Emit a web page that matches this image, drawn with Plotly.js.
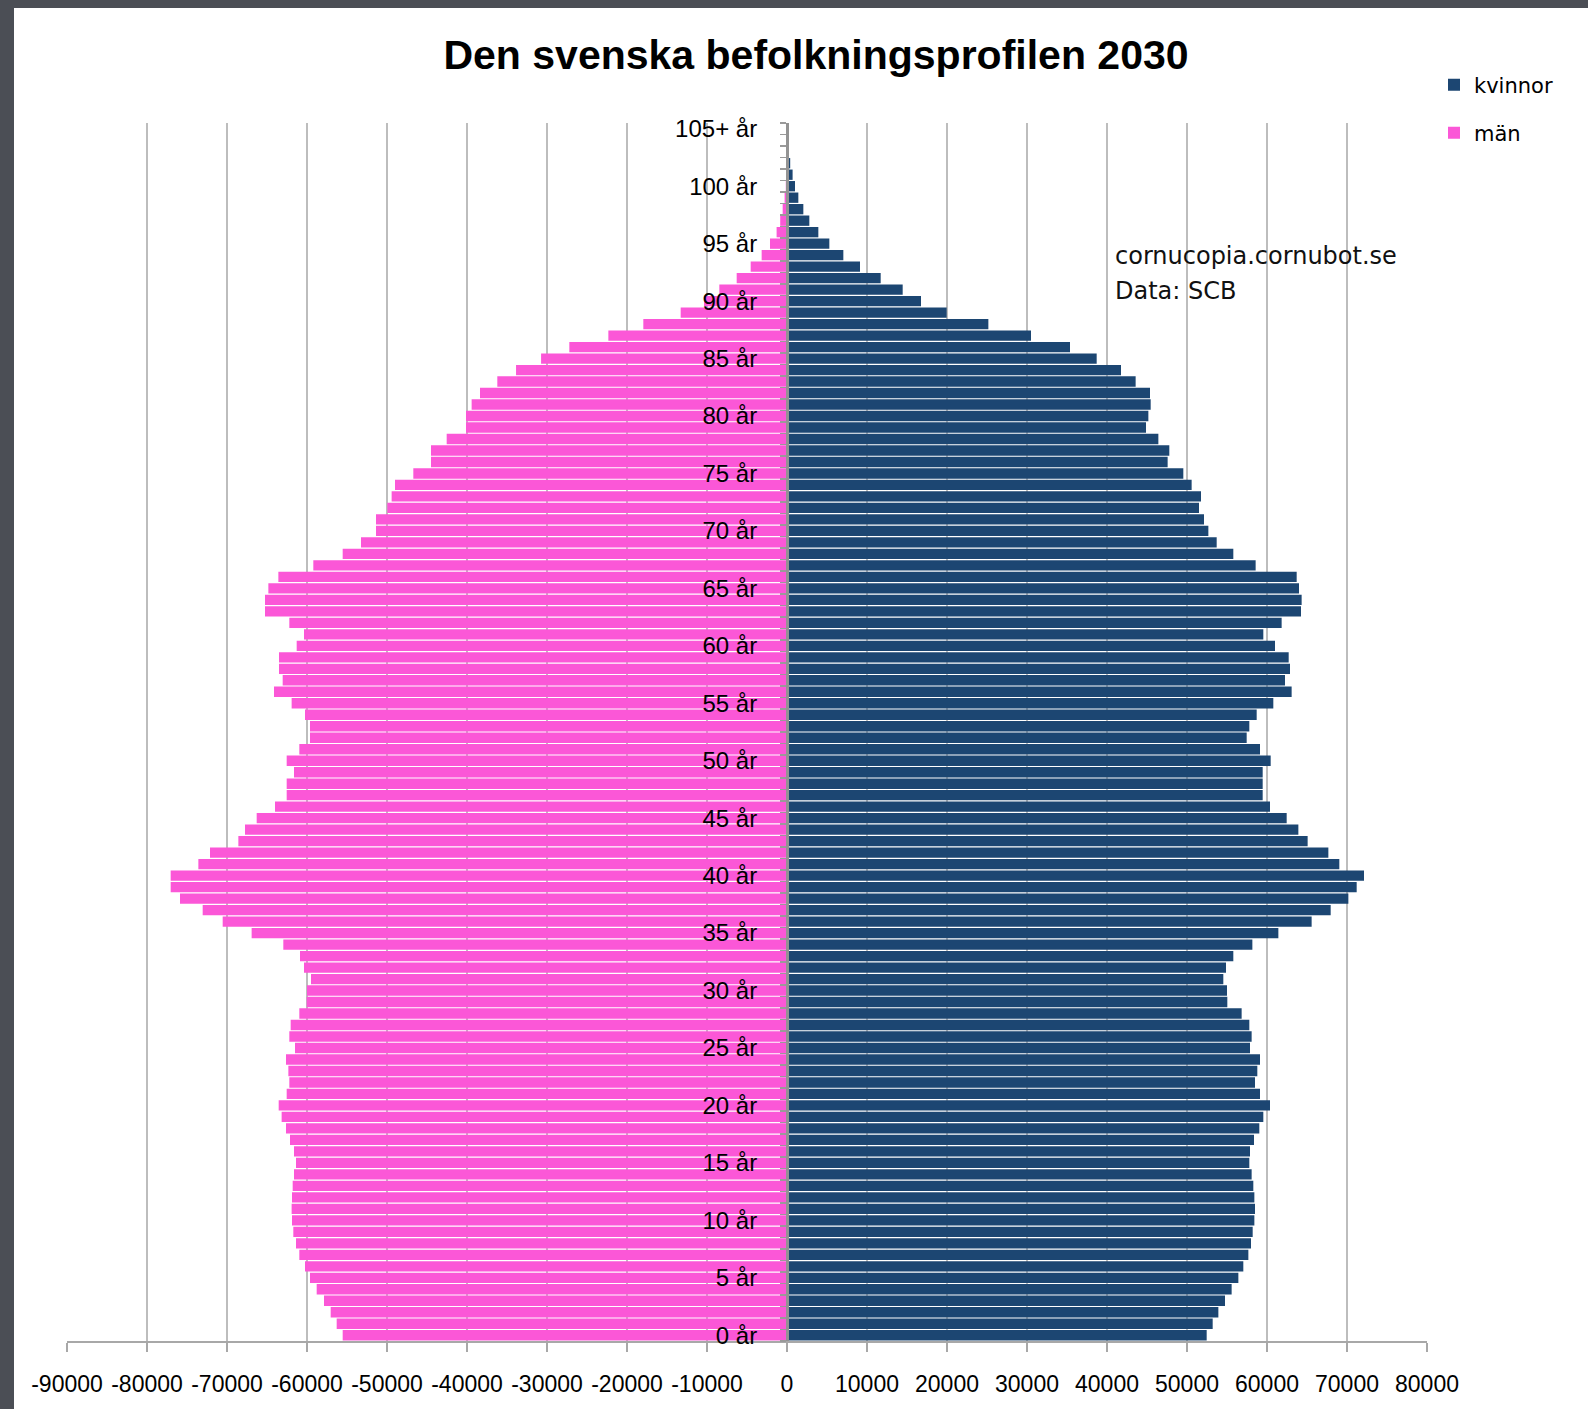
<!DOCTYPE html>
<html><head><meta charset="utf-8">
<script src="https://cdn.plot.ly/plotly-3.0.1.min.js"></script>
<style>
html,body{margin:0;padding:0;background:#4b4e55;width:1588px;height:1409px;overflow:hidden}
#chart{position:absolute;left:14px;top:8px;width:1574px;height:1401px;background:#fff}
</style></head><body><div id="chart"></div>
<script>
// age classes 0..105 (105 = 105+)
const ages = Array.from({length: 106}, (_, i) => i);
const tickAges = [0,5,10,15,20,25,30,35,40,45,50,55,60,65,70,75,80,85,90,95,100,105];
const tickLabels = ['0 år','5 år','10 år','15 år','20 år','25 år','30 år','35 år','40 år','45 år','50 år','55 år','60 år','65 år','70 år','75 år','80 år','85 år','90 år','95 år','100 år','105+ år'];

// män (drawn to the left, negative values as on the axis), ages 0..105
const man = [
 -55540,-56290,-57040,-57875,-58790,-59625,-60250,-60960,-61375,-61710,
 -61875,-61920,-61875,-61790,-61625,-61375,-61625,-62125,-62625,-63170,
 -63540,-62540,-62210,-62330,-62625,-61500,-62210,-62040,-60960,-60040,
 -60000,-59500,-60375,-60875,-62960,-66920,-70540,-73040,-75875,-77040,
 -77040,-73580,-72125,-68580,-67750,-66290,-64000,-62540,-62540,-61625,
 -62540,-60960,-59625,-59625,-60250,-61920,-64125,-63040,-63500,-63500,
 -61290,-60375,-62210,-65250,-65250,-64830,-63580,-59210,-55540,-53250,
 -51375,-51375,-49960,-49420,-49000,-46710,-44500,-44500,-42540,-40125,
 -40125,-39420,-38375,-36210,-33870,-30740,-27210,-22330,-17960,-13290,
 -10375,-8460,-6290,-4540,-3170,-2125,-1300,-850,-540,-300,
 -150,-80,-40,-20,-10,-10
];

// kvinnor (drawn to the right), ages 0..105
const kvinnor = [
 52460,53210,53920,54750,55580,56420,57040,57670,58000,58210,
 58420,58500,58420,58290,58080,57790,57875,58375,59040,59540,
 60375,59125,58500,58790,59125,57875,58080,57790,56830,55040,
 55000,54540,54875,55790,58170,61420,65580,67960,70170,71210,
 72125,69040,67670,65080,63920,62460,60375,59460,59460,59460,
 60460,59125,57460,57790,58710,60790,63080,62250,62875,62710,
 61000,59540,61830,64250,64330,64000,63710,58580,55790,53710,
 52670,52125,51500,51750,50580,49540,47580,47790,46420,44875,
 45170,45460,45375,43580,41750,38710,35375,30500,25170,19960,
 16750,14460,11710,9125,7042,5292,3917,2792,2042,1417,
 1000,700,400,250,150,150
];

const xTicks = [-90000,-80000,-70000,-60000,-50000,-40000,-30000,-20000,-10000,0,10000,20000,30000,40000,50000,60000,70000,80000];
const xTickLabels = ['-90000','-80000','-70000','-60000','-50000','-40000','-30000','-20000','-10000','0','10000','20000','30000','40000','50000','60000','70000','80000'];

const SANS = '"Liberation Sans", Arial, sans-serif';
const LUCIDA = '"DejaVu Sans", sans-serif';

const traces = [
  {type:'bar', orientation:'h', name:'kvinnor', y: ages, x: kvinnor,
   marker:{color:'#1c4672'}, legend:'legend', hoverinfo:'x+y'},
  {type:'bar', orientation:'h', name:'män', y: ages, x: man,
   marker:{color:'#fb57d7'}, legend:'legend2', hoverinfo:'x+y'}
];

const W = 1574, H = 1401;
const mL = 53, mR = 161, mT = 115, mB = 68;
const pw = W - mL - mR, ph = H - mT - mB;
const px = v => (v - mL) / pw;
const py = v => 1 - (v - mT) / ph;

const layout = {
  width: W, height: H,
  margin: {l: mL, r: mR, t: mT, b: mB, pad: 0},
  paper_bgcolor: '#ffffff', plot_bgcolor: '#ffffff',
  barmode: 'overlay', bargap: 0.1,
  showlegend: true,
  title: {text: 'Den svenska befolkningsprofilen 2030', x: 802 / W, xanchor: 'center',
          y: 1 - 47 / H, yanchor: 'middle',
          font: {family: SANS, size: 41, color: '#000', weight: 700}},
  xaxis: {range: [-90000, 80000], tickvals: xTicks, ticktext: xTickLabels, tickangle: 0,
          showgrid: true, gridcolor: '#bdbdbd', gridwidth: 2, zeroline: false,
          showline: true, linecolor: '#a8a8a8', linewidth: 2,
          ticks: 'outside', ticklen: 9, tickwidth: 2, tickcolor: '#a8a8a8',
          tickfont: {family: SANS, size: 23, color: '#000'}, ticklabelstandoff: 12,
          fixedrange: true},
  yaxis: {range: [-0.5, 105.5], tickvals: tickAges, ticktext: tickLabels,
          ticks: '', showgrid: false, zeroline: false,
          showline: true, linecolor: '#939393', linewidth: 3,
          anchor: 'free', position: 90000 / 170000, side: 'left',
          minor: {ticks: 'outside', tick0: 0.5, dtick: 1, ticklen: 6, tickwidth: 1.5, tickcolor: '#9a9a9a', showgrid: false},
          tickfont: {family: SANS, size: 24, color: '#000'}, ticklabelstandoff: 24,
          fixedrange: true},
  legend: {x: px(1420), y: py(77), xanchor: 'left', yanchor: 'middle',
           bgcolor: 'rgba(0,0,0,0)', font: {family: LUCIDA, size: 21, color: '#000'}},
  legend2: {x: px(1420), y: py(125), xanchor: 'left', yanchor: 'middle',
           bgcolor: 'rgba(0,0,0,0)', font: {family: LUCIDA, size: 21, color: '#000'}},
  annotations: [
    {text: 'cornucopia.cornubot.se', xref: 'paper', yref: 'paper', x: px(1099), y: py(248),
     xanchor: 'left', yanchor: 'middle', showarrow: false, font: {family: LUCIDA, size: 24, color: '#111'}},
    {text: 'Data: SCB', xref: 'paper', yref: 'paper', x: px(1099), y: py(283),
     xanchor: 'left', yanchor: 'middle', showarrow: false, font: {family: LUCIDA, size: 24, color: '#111'}}
  ]
};

Plotly.newPlot('chart', traces, layout, {displayModeBar: false, staticPlot: true});
</script>
</body></html>
